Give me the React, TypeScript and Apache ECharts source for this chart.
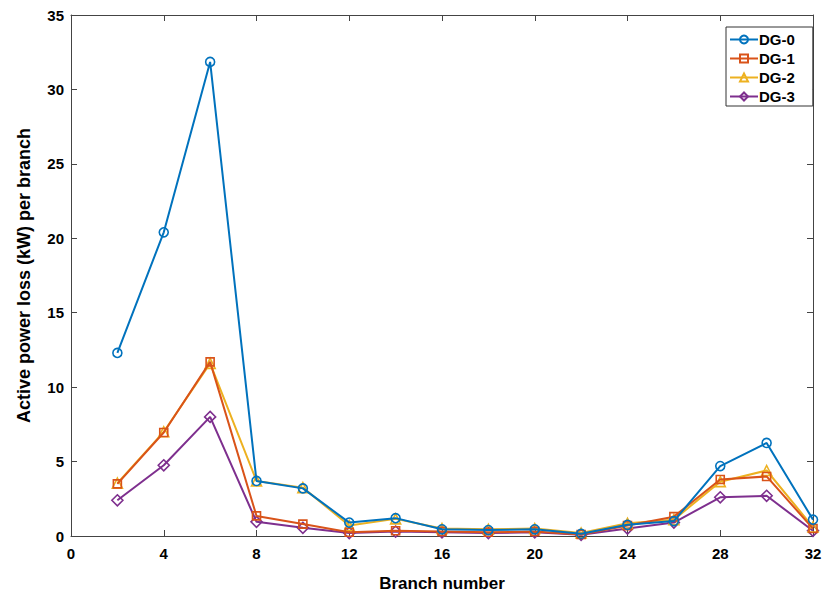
import React, { useEffect, useRef } from "react";
import * as echarts from "echarts";

const branches = [2, 4, 6, 8, 10, 12, 14, 16, 18, 20, 22, 24, 26, 28, 30, 32];
const dg0 = [12.3, 20.4, 31.85, 3.7, 3.2, 0.9, 1.2, 0.45, 0.4, 0.45, 0.15, 0.75, 1.0, 4.7, 6.25, 1.1];
const dg1 = [3.5, 6.95, 11.7, 1.35, 0.8, 0.25, 0.35, 0.3, 0.25, 0.3, 0.1, 0.7, 1.3, 3.8, 4.0, 0.5];
const dg2 = [3.55, 7.0, 11.6, 3.7, 3.25, 0.7, 1.15, 0.5, 0.45, 0.5, 0.2, 0.85, 1.1, 3.65, 4.4, 0.6];
const dg3 = [2.4, 4.75, 8.0, 0.95, 0.55, 0.2, 0.3, 0.25, 0.2, 0.25, 0.08, 0.5, 0.9, 2.6, 2.7, 0.35];
const seriesNames = ["DG-0", "DG-1", "DG-2", "DG-3"];
const seriesValues = [dg0, dg1, dg2, dg3];
const colors = ["#0072BD", "#D95319", "#EDB120", "#7E2F8E"];
const symbols = ["circle", "rect", "triangle", "diamond"];
const symbolSizes = [9, 8, 10, 11];

export default function App() {
  const ref = useRef<HTMLDivElement>(null);
  useEffect(() => {
    if (!ref.current) return;
    const chart = echarts.init(ref.current, null, { renderer: "svg" });
    const font = "'Liberation Sans', Arial, sans-serif";
    const axisLabel = { color: "#000", fontFamily: font, fontWeight: "bold" as const, fontSize: 15 };
    const axisLineStyle = { color: "#444", width: 1 };
    chart.setOption({
      animation: false,
      backgroundColor: "#fff",
      grid: { left: 71, right: 9, top: 15, bottom: 57, outerBoundsMode: "none", containLabel: false },
      legend: {
        orient: "vertical",
        left: 726,
        top: 27,
        data: seriesNames,
        itemWidth: 28,
        itemHeight: 10,
        itemGap: 4,
        padding: [5, 18, 2, 3],
        borderColor: "#333",
        borderWidth: 1,
        borderRadius: 0,
        backgroundColor: "#fff",
        textStyle: {
          color: "#000",
          fontFamily: font,
          fontWeight: "bold",
          fontSize: 15,
          lineHeight: 15,
          padding: [0, 0, 0, -4],
        },
      },
      xAxis: [
        {
          type: "value",
          min: 0,
          max: 32,
          interval: 4,
          name: "Branch number",
          nameLocation: "middle",
          nameGap: 39,
          nameTextStyle: { color: "#000", fontFamily: font, fontWeight: "bold", fontSize: 17 },
          axisLine: { onZero: false, lineStyle: axisLineStyle },
          axisTick: { inside: true, length: 6, lineStyle: axisLineStyle },
          axisLabel: { ...axisLabel, margin: 10 },
          splitLine: { show: false },
        },
        {
          type: "value",
          position: "top",
          min: 0,
          max: 32,
          interval: 4,
          axisLine: { show: true, onZero: false, lineStyle: axisLineStyle },
          axisTick: { show: true, inside: true, length: 6, lineStyle: axisLineStyle },
          axisLabel: { show: false },
          splitLine: { show: false },
        },
      ],
      yAxis: [
        {
          type: "value",
          min: 0,
          max: 35,
          interval: 5,
          name: "Active power loss (kW) per branch",
          nameLocation: "middle",
          nameGap: 38,
          nameTextStyle: { color: "#000", fontFamily: font, fontWeight: "bold", fontSize: 18 },
          axisLine: { show: true, onZero: false, lineStyle: axisLineStyle },
          axisTick: { show: true, inside: true, length: 6, lineStyle: axisLineStyle },
          axisLabel: { ...axisLabel, margin: 7 },
          splitLine: { show: false },
        },
        {
          type: "value",
          position: "right",
          min: 0,
          max: 35,
          interval: 5,
          axisLine: { show: true, onZero: false, lineStyle: axisLineStyle },
          axisTick: { show: true, inside: true, length: 6, lineStyle: axisLineStyle },
          axisLabel: { show: false },
          splitLine: { show: false },
        },
      ],
      series: seriesNames.map((name, i) => ({
        name,
        type: "line",
        xAxisIndex: 0,
        yAxisIndex: 0,
        data: branches.map((b, j) => [b, seriesValues[i][j]]),
        symbol: symbols[i],
        symbolSize: symbolSizes[i],
        showAllSymbol: true,
        lineStyle: { color: colors[i], width: 2 },
        itemStyle: { color: "rgba(255,255,255,0)", borderColor: colors[i], borderWidth: 1.6 },
        z: 10 - i,
      })),
    });
    return () => chart.dispose();
  }, []);
  return <div ref={ref} style={{ width: 822, height: 593, position: "absolute", left: 0, top: 0 }} />;
}
